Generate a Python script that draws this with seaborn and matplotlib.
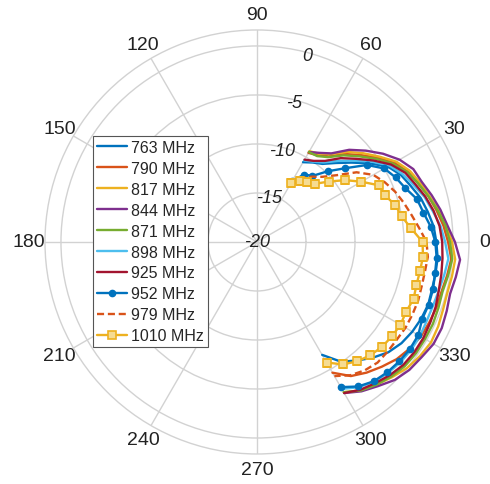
import numpy as np
import pandas as pd
import matplotlib
matplotlib.use("Agg")
import matplotlib.pyplot as plt
import seaborn as sns

# angles in degrees (measured direction), 60 ... -60
angles_deg = [60, 55, 50, 45, 40, 35, 30, 25, 20, 15, 10, 5, 0,
              -5, -10, -15, -20, -25, -30, -35, -40, -45, -50, -55, -60]

freqs = ["763 MHz", "790 MHz", "817 MHz", "844 MHz", "871 MHz",
         "898 MHz", "925 MHz", "952 MHz", "979 MHz", "1010 MHz"]

# normalised gain (dB)
g763 = [-10.6, -10.1, -9.6, -8.6, -7.4, -6.0, -4.6, -3.8, -3.3, -2.7, -2.3, -1.9, -1.7,
        -1.5, -1.5, -1.5, -1.4, -1.5, -1.7, -2.0, -2.5, -3.3, -4.2, -5.1, -6.7]
g790 = [-9.5, -9.2, -8.6, -7.3, -6.2, -5.0, -3.8, -3.0, -2.5, -1.9, -1.4, -0.9, -0.5,
        -0.1, -0.3, -0.5, -0.5, -0.6, -0.7, -1.0, -1.4, -2.0, -2.6, -3.3, -4.6]
g817 = [-9.3, -9.0, -8.3, -7.0, -5.9, -4.8, -3.6, -2.8, -2.3, -1.8, -1.2, -0.6, -0.1,
        0.3, 0.2, 0.1, 0.2, 0.4, 0.5, 0.3, 0.0, -0.5, -1.0, -1.5, -2.3]
g844 = [-9.4, -8.9, -8.2, -6.7, -5.5, -4.3, -3.2, -2.4, -2.1, -1.55, -1.0, -0.5, 0.2,
        0.8, 0.6, 0.4, 0.6, 0.8, 0.8, 0.5, 0.3, -0.1, -0.8, -1.4, -2.2]
g871 = [-9.4, -9.3, -8.7, -7.5, -6.4, -5.2, -4.0, -3.1, -2.5, -1.9, -1.3, -0.7, -0.3,
        0.0, -0.2, -0.4, -0.3, -0.2, -0.2, -0.2, -0.3, -0.6, -1.0, -1.5, -2.3]
g898 = [-10.4, -10.0, -9.4, -8.3, -7.1, -5.7, -4.4, -3.6, -3.0, -2.3, -1.8, -1.2, -0.8,
        -0.4, -0.6, -0.8, -0.9, -0.9, -0.8, -0.8, -0.9, -1.1, -1.4, -1.9, -2.7]
g925 = [-10.3, -9.9, -9.2, -7.9, -6.8, -5.5, -4.2, -3.3, -2.8, -2.2, -1.7, -1.3, -1.1,
        -1.0, -0.9, -0.8, -0.6, -0.5, -0.4, -0.4, -0.5, -0.8, -1.2, -1.6, -2.2]
g952 = [-12.8, -11.6, -11.2, -9.8, -8.3, -6.3, -5.0, -4.4, -3.9, -3.1, -2.75, -2.2, -1.8,
        -1.6, -1.55, -1.4, -1.35, -1.4, -1.0, -0.95, -1.05, -1.2, -1.45, -2.0, -2.9]
g979 = [-13.3, -12.0, -11.3, -10.6, -9.4, -7.6, -6.3, -5.6, -5.0, -4.5, -4.0, -3.4, -2.7,
        -2.5, -2.6, -2.6, -2.5, -2.5, -2.5, -2.6, -2.6, -2.6, -2.9, -3.4, -4.2]
g1010 = [-13.0, -12.4, -12.0, -11.6, -10.4, -9.0, -7.7, -6.3, -6.1, -5.4, -5.0, -4.2, -3.1,
         -3.0, -3.1, -3.15, -3.0, -3.2, -3.1, -3.2, -3.35, -3.65, -4.1, -4.75, -5.8]

gains = [g763, g790, g817, g844, g871, g898, g925, g952, g979, g1010]

r_ticks = [-20, -15, -10, -5, 0]
theta_ticks = list(range(0, 360, 30))

# long table for seaborn
rows = []
for f, g in zip(freqs, gains):
    for a, v in zip(angles_deg, g):
        rows.append({"freq": f, "theta": np.deg2rad(a), "gain": v})
df = pd.DataFrame(rows)

colors = ["#0072BD", "#D95319", "#EDB120", "#7E2F8E", "#77AC30",
          "#4DBEEE", "#A2142F", "#0072BD", "#D95319", "#EDB120"]
markers = [None] * 7 + ["o", None, "s"]
styles = ["-"] * 8 + [(0, (3, 1.6)), "-"]

sns.set_theme(style="white")
plt.rcParams["font.family"] = ["Liberation Sans", "DejaVu Sans"]

fig = plt.figure(figsize=(4.9, 4.85), dpi=100)
ax = fig.add_axes([0.0918, 0.0619, 0.8653, 0.8742], projection="polar")

for i, f in enumerate(freqs):
    sub = df[df["freq"] == f]
    kw = dict(color=colors[i], linewidth=1.7, linestyle=styles[i], label=f)
    if markers[i] == "o":
        kw.update(marker="o", markersize=4.5, markeredgecolor=colors[i],
                  markerfacecolor=colors[i], markeredgewidth=1)
    elif markers[i] == "s":
        kw.update(marker="s", markersize=6, markeredgecolor=colors[i],
                  markerfacecolor="#F6DC92", markeredgewidth=1.2)
    sns.lineplot(data=sub, x="theta", y="gain", ax=ax, sort=False,
                 estimator=None, **kw)

ax.set_ylim(-20, 1.63)
ax.set_yticks(r_ticks)
ax.set_yticklabels([])
ax.set_thetagrids(theta_ticks, [str(t) for t in theta_ticks], fontsize=14)
ax.tick_params(axis="x", pad=-1.5, colors="#222222")
ax.set_xlabel("")
ax.set_ylabel("")
ax.grid(True, color="#d2d2d2", linewidth=1)
ax.spines["polar"].set_color("#d2d2d2")
ax.spines["polar"].set_linewidth(1)

for r in r_ticks:
    rr = r if r == -20 else r - 0.3
    ax.text(np.deg2rad(75), rr, str(r), fontsize=13, style="italic",
            ha="center", va="center", color="#222222", clip_on=False)

leg = ax.legend(loc="upper left", bbox_to_anchor=(93 / 490, 1 - 137 / 485),
                bbox_transform=fig.transFigure, borderaxespad=0,
                fontsize=11.5, handlelength=1.85, handletextpad=0.3,
                labelspacing=0.37, borderpad=0.25, fancybox=False,
                framealpha=1, edgecolor="#555555")
leg.get_frame().set_linewidth(0.8)

fig.savefig("out.png", dpi=100)
